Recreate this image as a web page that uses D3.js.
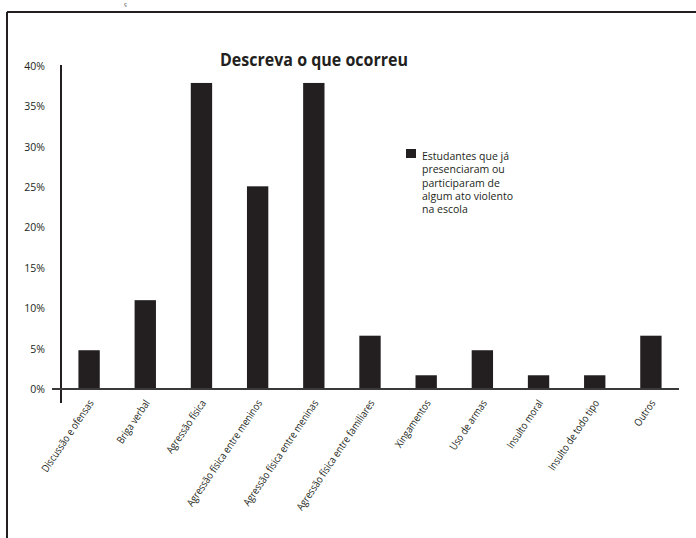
<!DOCTYPE html>
<html>
<head>
<meta charset="utf-8">
<script src="https://cdn.jsdelivr.net/npm/d3@7"></script>
<style>
  html, body { margin: 0; padding: 0; background: #fff; }
  svg { display: block; }
  text { font-family: "Open Sans", "Noto Sans", sans-serif; fill: #231f20; }
</style>
</head>
<body>
<svg id="chart" width="696" height="538"></svg>
<script>
// Categories and percentages (share of students)
const categories = [
  "Discussão e ofensas",
  "Briga verbal",
  "Agressão física",
  "Agressão física entre meninos",
  "Agressão física entre meninas",
  "Agressão física entre familiares",
  "Xingamentos",
  "Uso de armas",
  "Insulto moral",
  "Insulto de todo tipo",
  "Outros"
];
const values = [4.8, 11.0, 37.9, 25.1, 37.9, 6.6, 1.7, 4.8, 1.7, 1.7, 6.6];
const yTicks = [0, 5, 10, 15, 20, 25, 30, 35, 40];
const seriesName = ["Estudantes que já", "presenciaram ou", "participaram de", "algum ato violento", "na escola"];
const title = "Descreva o que ocorreu";

const ink = "#231f20";
const svg = d3.select("#chart");

// Page frame: top and left rules
svg.append("line").attr("x1", 7).attr("x2", 696).attr("y1", 12).attr("y2", 12)
  .attr("stroke", ink).attr("stroke-width", 2);
svg.append("line").attr("x1", 7).attr("x2", 7).attr("y1", 12).attr("y2", 538)
  .attr("stroke", ink).attr("stroke-width", 2);
svg.append("text").attr("x", 124).attr("y", 6).attr("font-size", 6).text("ç");

const x = d3.scaleBand().domain(categories).range([61, 679])
  .paddingInner(0.62).paddingOuter(0.31);
const y = d3.scaleLinear().domain([0, 40]).range([389, 66]);

// Bars
svg.append("g").selectAll("rect").data(values).join("rect")
  .attr("x", (d, i) => x(categories[i]))
  .attr("y", d => y(d))
  .attr("width", x.bandwidth())
  .attr("height", d => y(0) - y(d))
  .attr("fill", ink);

// Y axis labels
const yAxis = svg.append("g").attr("transform", "translate(61,0)")
  .call(d3.axisLeft(y).tickValues(yTicks).tickSize(0).tickPadding(16).tickFormat(d => d + "%"));
yAxis.select(".domain").remove();
yAxis.selectAll("text").attr("font-size", 10.5).attr("font-family", "'Open Sans', sans-serif")
  .attr("fill", "#333");

// Axis rules
svg.append("line").attr("x1", 61).attr("x2", 61).attr("y1", y(40) - 1).attr("y2", y(0) + 14)
  .attr("stroke", ink).attr("stroke-width", 2);
svg.append("line").attr("x1", 52).attr("x2", 679).attr("y1", y(0)).attr("y2", y(0))
  .attr("stroke", "#3a3a3a").attr("stroke-width", 2.2);

// X axis labels, rotated
const xAxis = svg.append("g").attr("transform", `translate(0,${y(0)})`)
  .call(d3.axisBottom(x).tickSize(0).tickPadding(0));
xAxis.select(".domain").remove();
xAxis.selectAll("text")
  .attr("font-size", 10.5)
  .attr("font-family", "'Open Sans', sans-serif")
  .attr("fill", "#333")
  .attr("text-anchor", "end")
  .attr("dy", 0)
  .attr("transform", "translate(5,14) rotate(-56) scale(0.86,1)");

// Title
svg.append("text").attr("x", 314).attr("y", 66).attr("text-anchor", "middle")
  .attr("font-size", 17.5).attr("font-weight", "bold")
  .attr("textLength", 188).attr("lengthAdjust", "spacingAndGlyphs")
  .text(title);

// Legend
svg.append("rect").attr("x", 406).attr("y", 149).attr("width", 10).attr("height", 9).attr("fill", ink);
const lg = svg.append("text").attr("x", 422).attr("y", 160).attr("font-size", 10.5);
lg.selectAll("tspan").data(seriesName).join("tspan")
  .attr("x", 422).attr("dy", (d, i) => i === 0 ? 0 : 13.3).text(d => d);
</script>
</body>
</html>
